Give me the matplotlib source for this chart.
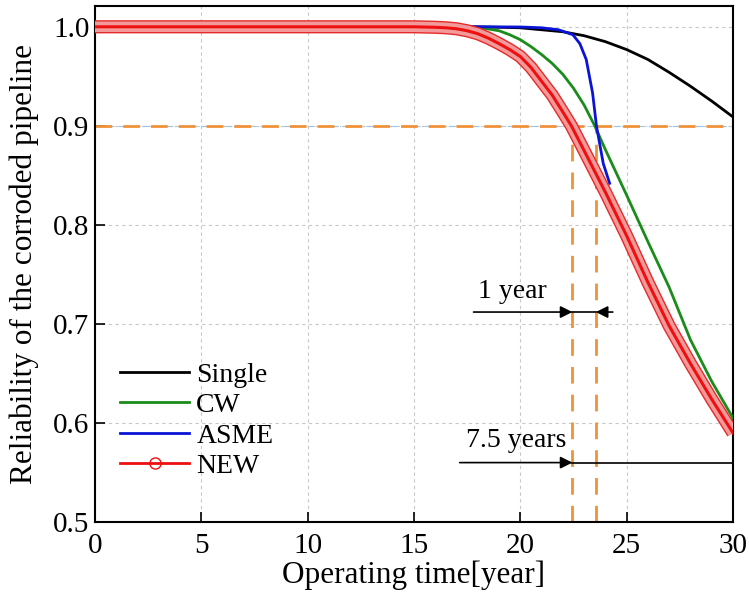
import numpy as np
import matplotlib
matplotlib.use("Agg")
import matplotlib.pyplot as plt
import matplotlib.patheffects as pe
from matplotlib.lines import Line2D

# values
single_x = [0, 17, 18, 19, 20, 21, 22, 23, 24, 25, 26, 27, 28, 29, 30]
single_y = [1.0, 1.0, 0.9999, 0.9995, 0.999, 0.997, 0.995, 0.991, 0.985, 0.977,
            0.967, 0.954, 0.940, 0.925, 0.909]

cw_x = [0, 17, 18, 19, 19.5, 20, 20.5, 21, 21.5, 22, 22.5, 23, 23.5, 24, 25, 26,
        27, 28, 29, 30]
cw_y = [1.0, 1.0, 0.9995, 0.996, 0.992, 0.987, 0.980, 0.972, 0.963, 0.952, 0.938,
        0.921, 0.900, 0.876, 0.830, 0.783, 0.737, 0.684, 0.642, 0.605]

asme_x = [0, 18, 20, 21, 21.8, 22.47, 22.8, 23.1, 23.4, 23.58, 23.9, 24.2]
asme_y = [1.0, 1.0, 0.9998, 0.999, 0.997, 0.992, 0.983, 0.967, 0.933, 0.900,
          0.862, 0.842]

new_x = [0, 15, 16, 16.5, 17, 17.5, 18, 18.5, 19, 19.5, 20, 20.5, 21, 21.5, 22,
         22.4, 23, 24, 25, 26, 27, 28, 29, 30]
new_y = [1.0, 1.0, 0.9995, 0.999, 0.998, 0.996, 0.993, 0.9885, 0.983, 0.977, 0.970,
         0.959, 0.945, 0.931, 0.914, 0.900, 0.875, 0.833, 0.789, 0.742, 0.698,
         0.660, 0.624, 0.590]

target = 0.9
t_new = 22.45    # NEW reaches 0.9
t_cw = 23.55     # CW / ASME reach 0.9
x_ticks = [0, 5, 10, 15, 20, 25, 30]
y_ticks = [0.5, 0.6, 0.7, 0.8, 0.9, 1.0]

plt.rcParams['font.family'] = ['Liberation Serif', 'DejaVu Serif']

fig = plt.figure(figsize=(7.49, 5.99), dpi=100)
ax = fig.add_axes([0.1268, 0.1285, 0.8518, 0.8615])

ax.grid(True, color='#c8c8c8', linestyle=(0, (3, 3)), linewidth=0.8)
ax.set_axisbelow(True)

orange = '#f0923a'
ax.axhline(target, color='#9ec3e6', linestyle='-.', linewidth=0.8, zorder=1)
ax.plot([0, 30], [target, target], color=orange, linestyle=(0, (6, 4)), linewidth=2, zorder=1.5)
ax.plot([t_new, t_new], [0.5, target], color=orange, linestyle=(0, (6, 4)), linewidth=2, zorder=1.5)
ax.plot([t_cw, t_cw], [0.5, target], color=orange, linestyle=(0, (6, 4)), linewidth=2, zorder=1.5)

ax.plot(single_x, single_y, color='black', linewidth=2, zorder=3)
ax.plot(cw_x, cw_y, color='#1a8c1a', linewidth=2, zorder=3)
ax.plot(asme_x, asme_y, color='#0a14d6', linewidth=2, zorder=3)

band = [pe.Stroke(linewidth=9.5, foreground='#e52a2a', joinstyle='round', capstyle='butt'),
        pe.Stroke(linewidth=7.5, foreground='#f29a9a', joinstyle='round', capstyle='butt'),
        pe.Normal()]
ax.plot(new_x, new_y, color='#ee1010', linewidth=2.2, solid_joinstyle='round',
        path_effects=band, zorder=4)

# arrows
arr = dict(arrowstyle='-|>', color='black', lw=1.2, shrinkA=0, shrinkB=0,
           mutation_scale=18)
ax.annotate('', xy=(t_new, 0.712), xytext=(17.8, 0.712), arrowprops=arr, zorder=5)
ax.annotate('', xy=(t_cw, 0.712), xytext=(24.35, 0.712), arrowprops=arr, zorder=5)
ax.plot([t_new, t_cw], [0.712, 0.712], color='black', linewidth=1.2, zorder=5)
ax.text(19.65, 0.733, '1 year', fontsize=20, ha='center', va='center')

ax.annotate('', xy=(t_new, 0.56), xytext=(17.15, 0.56), arrowprops=arr, zorder=5)
ax.plot([t_new, 30], [0.56, 0.56], color='black', linewidth=1.2, zorder=5)
ax.text(19.8, 0.582, '7.5 years', fontsize=20, ha='center', va='center')

ax.set_xlim(0, 30)
ax.set_ylim(0.5, 1.021)
ax.set_xticks(x_ticks)
ax.set_yticks(y_ticks)
ax.set_yticklabels([f'{v:.1f}' for v in y_ticks])
ax.tick_params(direction='in', length=7, width=1.2, labelsize=21, pad=4)
ax.tick_params(axis='x', pad=8)
for s in ax.spines.values():
    s.set_linewidth(1.5)

ax.set_xlabel('Operating time[year]', fontsize=22.5, labelpad=1)
ax.set_ylabel('Reliability of the corroded pipeline', fontsize=22.5, labelpad=10)

handles = [Line2D([], [], color='black', lw=2),
           Line2D([], [], color='#1a8c1a', lw=2),
           Line2D([], [], color='#0a14d6', lw=2),
           Line2D([], [], color='#ee1010', lw=2, marker='o', markersize=8,
                  markerfacecolor='none', markeredgecolor='#ee1010')]
ax.legend(handles, ['Single', 'CW', 'ASME', 'NEW'], loc='lower left',
          bbox_to_anchor=(0.0, 0.035), frameon=False, fontsize=20,
          handlelength=2.5, labelspacing=0.18, handletextpad=0.25, numpoints=1)

fig.savefig('out.png', dpi=100)
